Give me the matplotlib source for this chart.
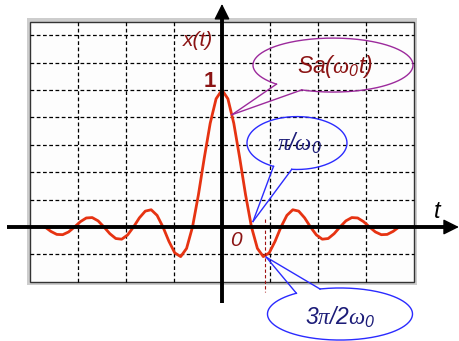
import numpy as np
import matplotlib.pyplot as plt
from matplotlib.patches import Rectangle

plt.rcParams['font.family'] = 'Liberation Sans'
plt.rcParams['mathtext.fontset'] = 'custom'
plt.rcParams['mathtext.rm'] = 'Liberation Sans:italic'
plt.rcParams['mathtext.it'] = 'Liberation Sans:italic'
plt.rcParams['mathtext.sf'] = 'Liberation Serif:italic'

# t in units of pi/w0, sampled every 0.2
t = np.linspace(-6, 6, 61)
sa = [0, -0.032, -0.054, -0.056, -0.036, 0, 0.039, 0.066, 0.069, 0.045,
      0, -0.049, -0.084, -0.089, -0.058, 0, 0.067, 0.116, 0.126, 0.085,
      0, -0.104, -0.189, -0.216, -0.156, 0, 0.234, 0.505, 0.757, 0.936,
      1,
      0.936, 0.757, 0.505, 0.234, 0, -0.156, -0.216, -0.189, -0.104, 0,
      0.085, 0.126, 0.116, 0.067, 0, -0.058, -0.089, -0.084, -0.049, 0,
      0.045, 0.069, 0.066, 0.039, 0, -0.036, -0.056, -0.054, -0.032, 0]

first_zero = 1.05
min_pos = 1.45

fig = plt.figure(figsize=(4.6, 3.41), dpi=100)
ax = fig.add_axes([0, 0, 1, 1])
ax.set_xlim(-7.525, 8.068)
ax.set_ylim(-0.832, 1.657)
ax.axis('off')

# grid box with grey rim
ax.add_patch(Rectangle((-6.6, -0.422), 13.2, 1.944, fc='#cdcdcd', ec='none', zorder=0))
ax.add_patch(Rectangle((-6.5, -0.4), 13.0, 1.9, fc='#fdfdfd', ec='#333333', lw=1, zorder=1))
for k in [-3, -2, -1, 1, 2, 3]:
    ax.plot([k * 1.625] * 2, [-0.4, 1.5], color='k', lw=0.9, ls=(0, (3, 2)), zorder=2)
for yy in np.arange(-0.2, 1.41, 0.2):
    ax.plot([-6.5, 6.5], [yy, yy], color='k', lw=0.9, ls=(0, (3, 2)), zorder=2)

# the curve
ax.plot(t, sa, color='#e63312', lw=2, zorder=3, solid_joinstyle='round')

# marker at the minimum
ax.plot([min_pos, min_pos], [0.058, -0.474], color='#a01010', lw=0.8, ls=(0, (3, 2)), zorder=3)

# axes with arrows
ax.plot([-7.29, 7.8], [0, 0], color='k', lw=2.8, zorder=4, solid_capstyle='butt')
ax.plot([0, 0], [-0.555, 1.55], color='k', lw=2.8, zorder=4, solid_capstyle='butt')
ax.annotate('', xy=(8.03, 0), xytext=(7.5, 0),
            arrowprops=dict(arrowstyle='-|>,head_length=0.8,head_width=0.4', fc='k', ec='k',
                            lw=1, mutation_scale=12, shrinkA=0, shrinkB=0), zorder=4)
ax.annotate('', xy=(0, 1.628), xytext=(0, 1.5),
            arrowprops=dict(arrowstyle='-|>,head_length=0.8,head_width=0.4', fc='k', ec='k',
                            lw=1, mutation_scale=12, shrinkA=0, shrinkB=0), zorder=4)

dark_red = '#8b1414'
navy = '#1c1c78'
ax.text(-0.81, 1.365, 'x(t)', color=dark_red, fontsize=15, style='italic', ha='center', va='center', zorder=6)
ax.text(-0.40, 1.06, '1', color=dark_red, fontsize=16, weight='bold', ha='center', va='center', zorder=6)
ax.text(0.47, -0.10, '0', color=dark_red, fontsize=15, style='italic', ha='center', va='center', zorder=6)
ax.text(7.29, 0.11, 't', color='k', fontsize=17, style='italic', ha='center', va='center', zorder=6)


def callout(cx, cy, a, b, th1, th2, tip, color):
    th = np.radians(np.linspace(th2, th1 + 360, 240))
    ax.plot(cx + a * np.cos(th), cy + b * np.sin(th), color=color, lw=1, zorder=5)
    for g in (th1, th2):
        r = np.radians(g)
        ax.plot([cx + a * np.cos(r), tip[0]], [cy + b * np.sin(r), tip[1]], color=color, lw=1, zorder=5)


callout(3.763, 1.182, 2.712, 0.197, -135, -113, (0.34, 0.82), '#9c2a9c')
callout(2.542, 0.613, 1.695, 0.193, -118, -96, (first_zero, 0.04), '#2b2bff')
callout(4.0, -0.635, 2.458, 0.19, 106, 127, (1.5, -0.22), '#2b2bff')

ax.text(3.83, 1.168, r'$Sa(\mathsf{\omega}_0t)$', color=dark_red, fontsize=16.5, ha='center', va='center', zorder=6)
ax.text(2.64, 0.613, r'$\mathsf{\pi}/\mathsf{\omega}_0$', color=navy, fontsize=16.5, ha='center', va='center', zorder=6)
ax.text(4.0, -0.66, r'$3\mathsf{\pi}/2\mathsf{\omega}_0$', color=navy, fontsize=16.5, ha='center', va='center', zorder=6)

fig.savefig('out.png', dpi=100)
